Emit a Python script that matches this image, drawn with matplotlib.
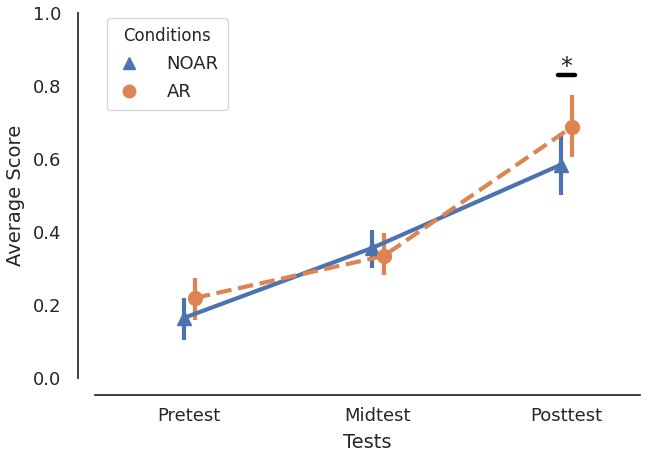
import matplotlib
matplotlib.use("Agg")
import matplotlib.pyplot as plt
import numpy as np
import seaborn as sns

sns.set_style("white")
plt.rcParams['font.family'] = ['DejaVu Sans']

tests = ["Pretest", "Midtest", "Posttest"]
conditions = ["NOAR", "AR"]
noar_mean = [0.164, 0.356, 0.584]
noar_lo = [0.104, 0.300, 0.501]
noar_hi = [0.219, 0.405, 0.671]
ar_mean = [0.219, 0.334, 0.688]
ar_lo = [0.159, 0.282, 0.605]
ar_hi = [0.274, 0.397, 0.775]

blue = "#4C72B0"
orange = "#DD8452"

fig = plt.figure(figsize=(6.54, 4.57), dpi=100)
ax = fig.add_axes([0.145, 0.173, 0.834, 0.799])

x = np.arange(len(tests))
dodge = 0.03
series = [
    (noar_mean, noar_lo, noar_hi, blue, "^", "-", -dodge),
    (ar_mean, ar_lo, ar_hi, orange, "o", "--", dodge),
]
for (m, lo, hi, c, mk, ls, off), name in zip(series, conditions):
    m = np.array(m)
    xs = x + off
    ax.vlines(xs, lo, hi, color=c, lw=3.0, zorder=2)
    ax.plot(xs, m, color=c, ls=ls, lw=3.0, zorder=3)
    ax.plot(xs, m, color=c, ls="none", marker=mk, ms=10, zorder=4, label=name)

# significance marker
ax.plot([1.955, 2.045], [0.83, 0.83], color="black", lw=3.2, solid_capstyle="round")
ax.text(2.0, 0.82, "*", ha="center", va="bottom", fontsize=17)

ax.set_xlim(-0.5, 2.39)
ax.set_ylim(0, 1.0)
ax.set_xticks(x)
ax.set_xticklabels(tests)
ax.set_yticks(np.arange(0, 1.01, 0.2))
ax.set_yticklabels([f"{v:.1f}" for v in np.arange(0, 1.01, 0.2)])
ax.set_xlabel("Tests", fontsize=14, labelpad=6)
ax.set_ylabel("Average Score", fontsize=14, labelpad=6)
ax.tick_params(axis="x", length=0, pad=9, labelsize=13)
ax.tick_params(axis="y", length=0, pad=12, labelsize=13)

sns.despine(ax=ax, offset=12)
for s in ["left", "bottom"]:
    ax.spines[s].set_linewidth(1.25)

leg = ax.legend(title="Conditions", loc="upper left", bbox_to_anchor=(0.012, 1.0),
                fontsize=13, title_fontsize=12, handlelength=1.5, handletextpad=1.3,
                borderpad=0.5, labelspacing=0.55, markerscale=0.9, borderaxespad=0.3)
leg.get_frame().set_edgecolor("#cccccc")

fig.savefig("out.png", dpi=100)
